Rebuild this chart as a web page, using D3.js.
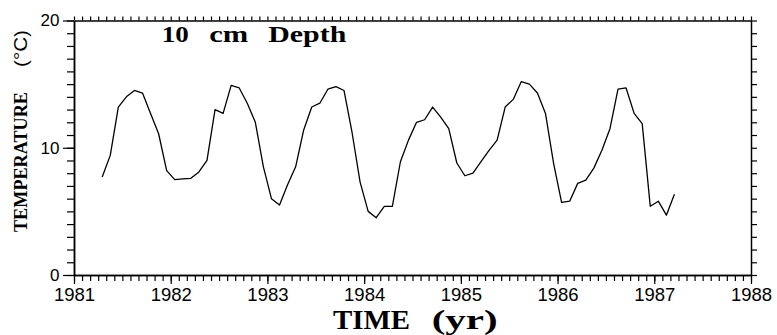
<!DOCTYPE html>
<html>
<head>
<meta charset="utf-8">
<script src="https://cdn.jsdelivr.net/npm/d3@7"></script>
<style>
  body { margin: 0; background: #fff; }
  svg { display: block; }
</style>
</head>
<body>
<svg width="777" height="335"></svg>
<script>
// monthly means, first sample mid-April 1981
const startYear = 1981, startMonth = 4;
const temps = [
  7.7, 9.4, 13.2, 14.0, 14.5, 14.3, 12.7, 11.1, 8.2, 7.5, 7.55, 7.6,
  8.1, 9.0, 13.0, 12.7, 14.9, 14.7, 13.5, 12.0, 8.5, 6.0, 5.5, 7.1,
  8.5, 11.4, 13.2, 13.5, 14.6, 14.8, 14.5, 11.2, 7.3, 5.0, 4.5, 5.4,
  5.4, 8.9, 10.6, 12.0, 12.2, 13.2, 12.4, 11.5, 8.8, 7.8, 8.0, 8.9,
  9.8, 10.6, 13.2, 13.8, 15.2, 15.0, 14.3, 12.7, 8.8, 5.7, 5.8, 7.2,
  7.45, 8.4, 9.8, 11.5, 14.6, 14.7, 12.7, 11.9, 5.4, 5.8, 4.7, 6.35
];
const yearTicks = [1981, 1982, 1983, 1984, 1985, 1986, 1987, 1988];
const tempTicks = [0, 10, 20];

const data = temps.map((t, i) => ({
  year: startYear + (startMonth - 1 + i + 0.5) / 12,
  temp: t
}));

const svg = d3.select("svg"),
    margin = {top: 20.5, right: 26, bottom: 60, left: 74},
    width = 777 - margin.left - margin.right,
    height = 335 - margin.top - margin.bottom;

const chart = svg.append("g").attr("transform", `translate(${margin.left},${margin.top})`);

const x = d3.scaleLinear().domain([1981, 1988]).range([0, width]);
const y = d3.scaleLinear().domain([0, 20]).range([height, 0]);

const months = d3.range(1981, 1988 + 1e-9, 1 / 12);
const minorT = d3.range(0, 21, 1);

const serif = "'Liberation Serif', 'Times New Roman', serif";
const sans = "'Liberation Sans', Arial, sans-serif";

function styleAxis(g) {
  g.select(".domain").attr("stroke", "#000").attr("stroke-width", 1.5);
  g.selectAll(".tick line").attr("stroke", "#000").attr("stroke-width", 1.2);
}

// minor ticks
chart.append("g")
    .attr("transform", `translate(0,${height})`)
    .call(d3.axisBottom(x).tickValues(months).tickSize(6).tickSizeOuter(0).tickFormat(""))
    .call(styleAxis);
chart.append("g")
    .call(d3.axisTop(x).tickValues(months).tickSize(4).tickSizeOuter(0).tickFormat(""))
    .call(styleAxis);
chart.append("g")
    .call(d3.axisLeft(y).tickValues(minorT).tickSize(7).tickSizeOuter(0).tickFormat(""))
    .call(styleAxis);
chart.append("g")
    .attr("transform", `translate(${width},0)`)
    .call(d3.axisRight(y).tickValues(minorT).tickSize(6).tickSizeOuter(0).tickFormat(""))
    .call(styleAxis);

// major ticks + labels
const xAxis = chart.append("g")
    .attr("transform", `translate(0,${height})`)
    .call(d3.axisBottom(x).tickValues(yearTicks).tickSize(9).tickSizeOuter(0).tickFormat(d3.format("d")))
    .call(styleAxis);
xAxis.selectAll("text")
    .attr("y", 25.5).attr("dy", null)
    .attr("fill", "#000")
    .style("font-family", sans)
    .style("font-size", "18.5px");

const yAxis = chart.append("g")
    .call(d3.axisLeft(y).tickValues(tempTicks).tickSize(11).tickPadding(3.5).tickSizeOuter(0))
    .call(styleAxis);
yAxis.selectAll("text")
    .attr("fill", "#000")
    .style("font-family", sans)
    .style("font-size", "17px");

// series
const line = d3.line().x(d => x(d.year)).y(d => y(d.temp));
chart.append("path")
    .datum(data)
    .attr("fill", "none")
    .attr("stroke", "#000")
    .attr("stroke-width", 1.3)
    .attr("stroke-linejoin", "round")
    .attr("d", line);

// title inside plot, words placed as in the original
const title = svg.append("text")
    .attr("y", 41.7)
    .style("font-family", serif)
    .style("font-weight", "bold")
    .style("font-size", "24px");
[["10", 161.7, 27], ["cm", 209.3, 39], ["Depth", 268.3, 78]].forEach(([w, px, len]) => {
  title.append("tspan").attr("x", px)
      .attr("textLength", len).attr("lengthAdjust", "spacingAndGlyphs")
      .text(w);
});

// x title
const xt = svg.append("text")
    .attr("y", 329)
    .style("font-family", serif)
    .style("font-weight", "bold")
    .style("font-size", "27px");
[["TIME", 333, 77], ["(yr)", 431.7, 66]].forEach(([w, px, len]) => {
  xt.append("tspan").attr("x", px)
      .attr("textLength", len).attr("lengthAdjust", "spacingAndGlyphs")
      .text(w);
});

// y title
svg.append("text")
    .attr("transform", "translate(27,232) rotate(-90)")
    .attr("textLength", 140).attr("lengthAdjust", "spacingAndGlyphs")
    .style("font-family", serif)
    .style("font-weight", "bold")
    .style("font-size", "19px")
    .text("TEMPERATURE");
svg.append("text")
    .attr("transform", "translate(27,67) rotate(-90)")
    .attr("textLength", 37).attr("lengthAdjust", "spacingAndGlyphs")
    .style("font-family", sans)
    .style("font-size", "18px")
    .text("(°C)");
</script>
</body>
</html>
